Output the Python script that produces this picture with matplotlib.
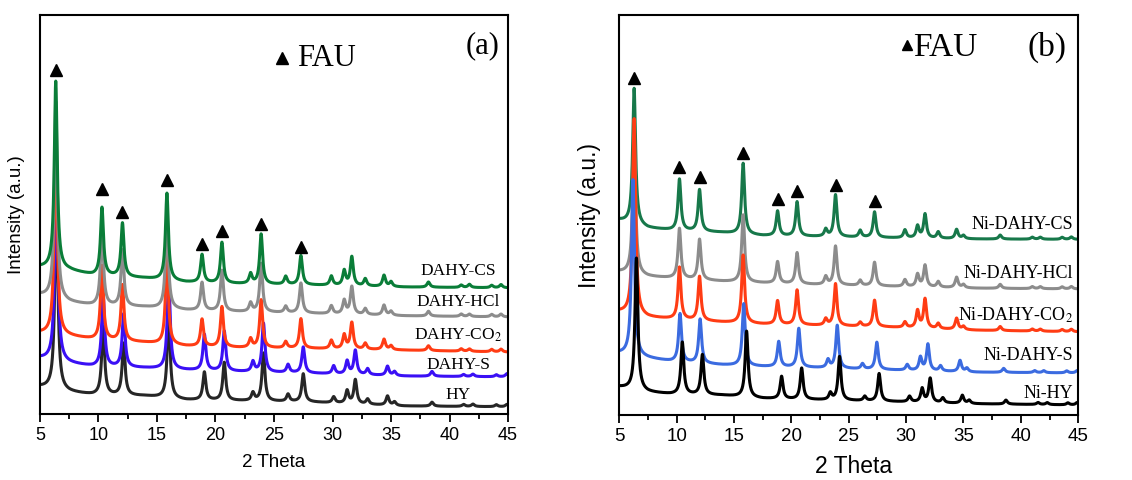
import numpy as np
import matplotlib.pyplot as plt

plt.rcParams['mathtext.fontset'] = 'stix'

# ---- panel (a): DAHY series ----
base_x_a = [5, 7.5, 9.5, 14, 17.5, 22, 28, 36, 45]
base_a = {
    'HY':       [6.8, 5.5, 4.8, 4.5, 3.5, 3.3, 3.0, 2.0, 1.8],
    'DAHY-S':   [14.0, 12.7, 11.9, 11.5, 11.0, 10.6, 10.2, 9.5, 9.3],
    'DAHY-CO2': [20.3, 19.5, 18.7, 17.9, 17.0, 16.6, 16.4, 16.0, 15.5],
    'DAHY-HCl': [29.8, 28.0, 27.2, 26.8, 26.0, 25.6, 25.2, 24.6, 24.3],
    'DAHY-CS':  [36.8, 36.0, 34.8, 34.0, 33.0, 32.6, 32.3, 31.8, 31.6],
}
pos_a = [6.35, 10.3, 12.05, 15.85, 18.85, 20.55, 23.0, 23.9, 26.0, 27.3, 29.9,
         31.0, 31.65, 32.8, 34.4, 35.0, 38.2, 41.0, 41.7, 43.6, 44.4]
pos_a_shift = [6.4, 10.4, 12.15, 16.0, 19.05, 20.75, 23.2, 24.1, 26.2, 27.5, 30.1,
               31.25, 31.95, 33.0, 34.7, 35.3, 38.5, 41.2, 42.0, 44.0, 44.9]
height_a = {
    'HY':       [48, 17, 13, 21, 7, 9.5, 2, 12, 1.8, 7, 1.5, 3.2, 6, 1.3, 2.3, 0.9, 1.0, 0.5, 0.6, 0.5, 0.6],
    'DAHY-S':   [50, 18, 13.3, 22.7, 9, 10, 2.5, 12.2, 2, 6.5, 2, 3.3, 6, 1.5, 2.3, 1, 1.2, 0.5, 0.6, 0.5, 0.8],
    'DAHY-CO2': [50, 18.5, 14, 22, 6.8, 10.1, 2.2, 12, 1.6, 7.4, 2.1, 3.5, 6.6, 1.5, 2.6, 1, 1.2, 0.6, 0.6, 0.6, 0.7],
    'DAHY-HCl': [49.5, 19.4, 14, 22.9, 7, 10.2, 2.2, 12.2, 1.6, 7.5, 2, 3.4, 6.9, 1.5, 2.5, 1, 1.2, 0.6, 0.6, 0.6, 0.7],
    'DAHY-CS':  [47, 17, 13.4, 21.8, 7, 10.2, 2.5, 12.5, 2, 7.3, 2.3, 3.7, 7.2, 1.8, 2.8, 1.2, 1.3, 0.6, 0.8, 0.6, 0.8],
}
order_a = ['HY', 'DAHY-S', 'DAHY-CO2', 'DAHY-HCl', 'DAHY-CS']
colors_a = ['#262626', '#3a10f5', '#ff3c14', '#8c8c8c', '#0a7d38']
labels_a = ['HY', 'DAHY-S', 'DAHY-CO$_2$', 'DAHY-HCl', 'DAHY-CS']
label_y_a = [4.8, 12.3, 19.8, 28.0, 35.8]
tri_x_a = [6.35, 10.3, 12.05, 15.85, 18.85, 20.55, 23.9, 27.3]
tri_y_a = [86.2, 56.4, 50.6, 58.6, 42.6, 45.9, 47.6, 41.9]

# ---- panel (b): Ni-DAHY series ----
base_x_b = [5, 7.5, 9.5, 14, 17.5, 22, 28, 36, 45]
base_b = {
    'Ni-HY':       [7.0, 5.7, 5.2, 4.9, 4.1, 3.8, 3.4, 2.8, 2.5],
    'Ni-DAHY-S':   [15.4, 14.2, 13.4, 12.5, 12.1, 11.8, 11.3, 10.7, 10.5],
    'Ni-DAHY-CO2': [25.8, 24.4, 24.0, 23.2, 22.7, 22.4, 22.0, 21.2, 20.8],
    'Ni-DAHY-HCl': [35.8, 34.6, 34.2, 33.4, 33.0, 32.6, 32.2, 31.7, 31.5],
    'Ni-DAHY-CS':  [48.7, 46.7, 46.2, 45.6, 44.8, 44.6, 44.3, 44.0, 43.9],
}
pos_b = [6.3, 10.25, 12.0, 15.8, 18.8, 20.5, 23.0, 23.85, 26.0, 27.25, 29.9,
         31.0, 31.65, 32.8, 34.4, 35.0, 38.2, 41.0, 41.7, 43.6, 44.4]
pos_b_s = [6.2, 10.3, 12.05, 15.85, 18.9, 20.65, 23.2, 24.0, 26.2, 27.45, 30.1,
           31.25, 31.9, 33.0, 34.7, 35.3, 38.5, 41.2, 42.0, 44.0, 44.9]
pos_b_hy = [6.5, 10.5, 12.25, 16.1, 19.15, 20.9, 23.4, 24.2, 26.4, 27.65, 30.3,
            31.4, 32.1, 33.2, 34.9, 35.5, 38.7, 41.5, 42.3, 44.1, 44.9]
height_b = {
    'Ni-HY':       [33, 13, 10, 16.5, 5.6, 7.8, 1.7, 10.9, 1.1, 6.9, 1.4, 3.4, 6, 1.2, 2, 0.8, 1.0, 0.5, 0.5, 0.5, 0.6],
    'Ni-DAHY-S':   [44, 12, 11, 15.5, 6.3, 9.7, 2, 10.7, 1.3, 6.8, 1.4, 3.3, 6.6, 1.3, 2.8, 0.9, 1.0, 0.5, 0.5, 0.5, 0.6],
    'Ni-DAHY-CO2': [49, 13, 11, 17, 5.9, 8.7, 1.6, 10.5, 1.0, 6.6, 1.4, 4.3, 7.3, 1.3, 2.8, 0.8, 1.0, 0.5, 0.5, 0.5, 0.6],
    'Ni-DAHY-HCl': [34.8, 12.5, 10.1, 16.8, 5.4, 7.8, 2, 9.7, 1.3, 5.9, 1.7, 3.1, 5.4, 1.4, 2.6, 0.8, 1.0, 0.5, 0.5, 0.5, 0.6],
    'Ni-DAHY-CS':  [34, 12.8, 10.4, 17.7, 6.2, 8.6, 1.8, 10.5, 1.7, 6.4, 2, 3, 6, 1.6, 2.3, 0.8, 1.0, 0.5, 0.5, 0.5, 0.6],
}
order_b = ['Ni-DAHY-CS', 'Ni-DAHY-HCl', 'Ni-DAHY-CO2', 'Ni-DAHY-S', 'Ni-HY']
colors_b = ['#17784a', '#8c8c8c', '#ff3c14', '#3b6be0', '#000000']
labels_b = ['Ni-DAHY-CS', 'Ni-DAHY-HCl', 'Ni-DAHY-CO$_2$', 'Ni-DAHY-S', 'Ni-HY']
positions_b = [pos_b, pos_b, pos_b, pos_b_s, pos_b_hy]
label_y_b = [47.75, 35.5, 25.0, 15.0, 5.5]
tri_x_b = [6.3, 10.25, 12.0, 15.8, 18.8, 20.5, 23.85, 27.25]
tri_y_b = [84.25, 62.0, 59.5, 65.5, 54.0, 56.0, 57.5, 53.5]

theta = np.linspace(5, 45, 4001)
WIDTH = 0.15  # peak half width (deg), line shape only


def pattern(bx, by, peaks, heights):
    y = np.interp(theta, bx, by)
    for p, h in zip(peaks, heights):
        y = y + h / (1 + ((theta - p) / WIDTH) ** 2)
    return y


def style_axes(ax, tick_size, label_size):
    ax.set_xlim(5, 45)
    ax.set_ylim(0, 100)
    ax.set_yticks([])
    ax.set_xticks(range(5, 46, 5))
    ax.set_xticks(np.arange(7.5, 45, 5), minor=True)
    ax.tick_params(axis='x', which='major', length=6, width=1.3, direction='out',
                   labelsize=tick_size, pad=3)
    ax.tick_params(axis='x', which='minor', length=3.5, width=1.3, direction='out')
    for s in ax.spines.values():
        s.set_linewidth(1.5)
    for t in ax.get_xticklabels():
        t.set_fontfamily('Liberation Sans')
    ax.set_xlabel('2 Theta', fontsize=label_size, family='Liberation Sans')
    ax.set_ylabel('Intensity (a.u.)', fontsize=label_size, family='Liberation Sans')


fig = plt.figure(figsize=(11.32, 4.8), dpi=100)
ax1 = fig.add_axes([0.0353, 0.1375, 0.4135, 0.8315])
ax2 = fig.add_axes([0.547, 0.1354, 0.4055, 0.8333])

# panel (a)
for name, c in zip(order_a, colors_a):
    pk = pos_a if name in ('DAHY-CO2', 'DAHY-HCl', 'DAHY-CS') else pos_a_shift
    ax1.plot(theta, pattern(base_x_a, base_a[name], pk, height_a[name]), color=c, lw=2.2)
for lab, ly in zip(labels_a, label_y_a):
    ax1.text(40.75, ly, lab, ha='center', va='center', fontsize=12.5, family='Liberation Serif')
ax1.plot(tri_x_a, tri_y_a, '^', color='black', ms=8.5, ls='none')
ax1.plot([25.65], [89.2], '^', color='black', ms=8.5)
ax1.text(27.0, 89.0, 'FAU', ha='left', va='center', fontsize=22, family='Liberation Serif')
ax1.text(42.8, 92.3, '(a)', ha='center', va='center', fontsize=22, family='Liberation Serif')
style_axes(ax1, 13, 13.5)
ax1.yaxis.set_label_coords(-0.032, 0.5)
ax1.xaxis.set_label_coords(0.5, -0.1)

# panel (b)
for name, c, pk in zip(order_b, colors_b, positions_b):
    ax2.plot(theta, pattern(base_x_b, base_b[name], pk, height_b[name]), color=c, lw=2.2)
for lab, ly in zip(labels_b, label_y_b):
    ax2.text(44.55, ly, lab, ha='right', va='center', fontsize=13, family='Liberation Serif')
ax2.plot(tri_x_b, tri_y_b, '^', color='black', ms=8.5, ls='none')
ax2.plot([30.1], [92.5], '^', color='black', ms=7)
ax2.text(30.6, 91.8, 'FAU', ha='left', va='center', fontsize=24, family='Liberation Serif')
ax2.text(42.3, 92.0, '(b)', ha='center', va='center', fontsize=24, family='Liberation Serif')
style_axes(ax2, 13.5, 16.5)
ax2.yaxis.set_label_coords(-0.039, 0.5)
ax2.xaxis.set_label_coords(0.51, -0.1)

fig.savefig('out.png', dpi=100)
